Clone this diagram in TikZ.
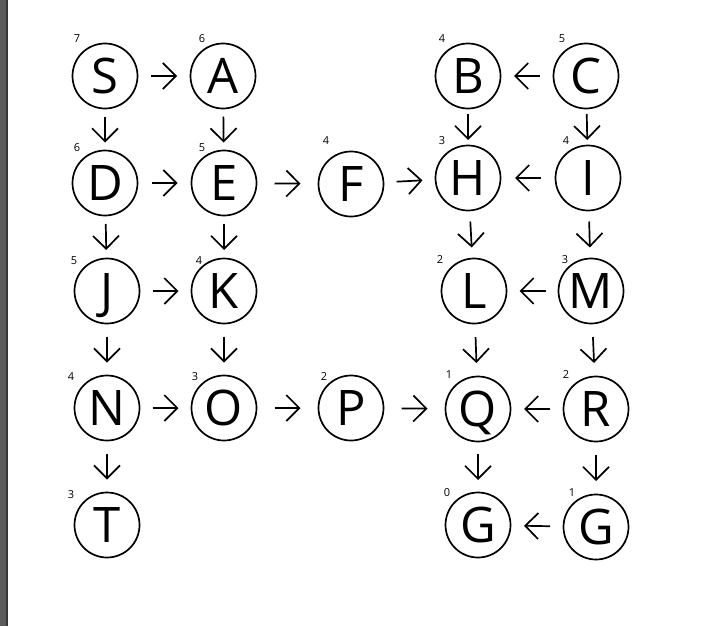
\documentclass[tikz,border=0pt]{standalone}
\usepackage{fontspec}
\setmainfont{Open Sans}
\usetikzlibrary{arrows.meta,calc}
\definecolor{bargray}{HTML}{5D5D5D}
\definecolor{bardark}{HTML}{383838}
\begin{document}
\begin{tikzpicture}[x=1pt,y=-1pt,
  st/.style={circle,draw,line width=1.7pt,minimum size=65pt,inner sep=0pt,
    font=\fontsize{49}{49}\selectfont,text height=35pt,text depth=0pt},
  hval/.style={font=\fontsize{11}{11}\selectfont,inner sep=0pt},
  arr/.style={line width=1.7pt,-{Straight Barb[length=13pt,width=26pt]},
    to path={let \p1=($(\tikztostart)!0.5!(\tikztotarget)$) in
      ($(\p1)!13pt!(\tikztostart)$) -- ($(\p1)!13pt!(\tikztotarget)$)}}]
\useasboundingbox (0,0) rectangle (727,626);
\fill[white] (0,0) rectangle (727,626);
\fill[bargray] (0,0) rectangle (6,626);
\fill[bardark] (6,0) rectangle (7.5,626);

% nodes
\node[st] (S) at (105,76) {S};
\node[st] (A) at (223,76) {A};
\node[st] (B) at (468,76) {B};
\node[st] (C) at (586,76) {C};
\node[st] (D) at (105,183) {D};
\node[st] (E) at (224,183) {E};
\node[st] (F) at (351,184) {F};
\node[st] (H) at (468,178) {H};
\node[st] (I) at (588,178) {I};
\node[st] (J) at (107,291) {J};
\node[st] (K) at (224,291) {K};
\node[st] (L) at (474,291) {L};
\node[st] (M) at (591,291) {M};
\node[st] (N) at (107,408) {N};
\node[st] (O) at (224,408) {O};
\node[st] (P) at (351,408) {P};
\node[st] (Q) at (478,409) {Q};
\node[st] (R) at (596,409) {R};
\node[st] (T) at (107,525) {T};
\node[st] (G0) at (478,525) {G};
\node[st] (G1) at (596,527) {G};

% heuristic values
\node[hval] (vS) at (77,39) {7};
\node[hval] (vA) at (202,39) {6};
\node[hval] (vB) at (442,39) {4};
\node[hval] (vC) at (562,39) {5};
\node[hval] (vD) at (77,148) {6};
\node[hval] (vE) at (202,148) {5};
\node[hval] (vF) at (326,141) {4};
\node[hval] (vH) at (442,141) {3};
\node[hval] (vI) at (566,141) {4};
\node[hval] (vJ) at (74,261) {5};
\node[hval] (vK) at (199,261) {4};
\node[hval] (vL) at (440,260) {2};
\node[hval] (vM) at (565,260) {3};
\node[hval] (vN) at (71,377) {4};
\node[hval] (vO) at (195,377) {3};
\node[hval] (vP) at (324,377) {2};
\node[hval] (vQ) at (449,375) {1};
\node[hval] (vR) at (566,375) {2};
\node[hval] (vT) at (71,495) {3};
\node[hval] (vG0) at (447,493) {0};
\node[hval] (vG1) at (572,493) {1};

% connectors
\draw[arr] (S) to (A);
\draw[arr] (S) to (D);
\draw[arr] (A) to (E);
\draw[arr] (C) to (B);
\draw[arr] (B) to (H);
\draw[arr] (C) to (I);
\draw[arr] (D) to (E);
\draw[arr] (E) to (F);
\draw[arr] (F) to (H);
\draw[arr] (I) to (H);
\draw[arr] (D) to (J);
\draw[arr] (E) to (K);
\draw[arr] (H) to (L);
\draw[arr] (I) to (M);
\draw[arr] (J) to (K);
\draw[arr] (M) to (L);
\draw[arr] (J) to (N);
\draw[arr] (K) to (O);
\draw[arr] (L) to (Q);
\draw[arr] (M) to (R);
\draw[arr] (N) to (O);
\draw[arr] (O) to (P);
\draw[arr] (P) to (Q);
\draw[arr] (R) to (Q);
\draw[arr] (N) to (T);
\draw[arr] (Q) to (G0);
\draw[arr] (R) to (G1);
\draw[arr] (G1) to (G0);
\end{tikzpicture}
\end{document}
